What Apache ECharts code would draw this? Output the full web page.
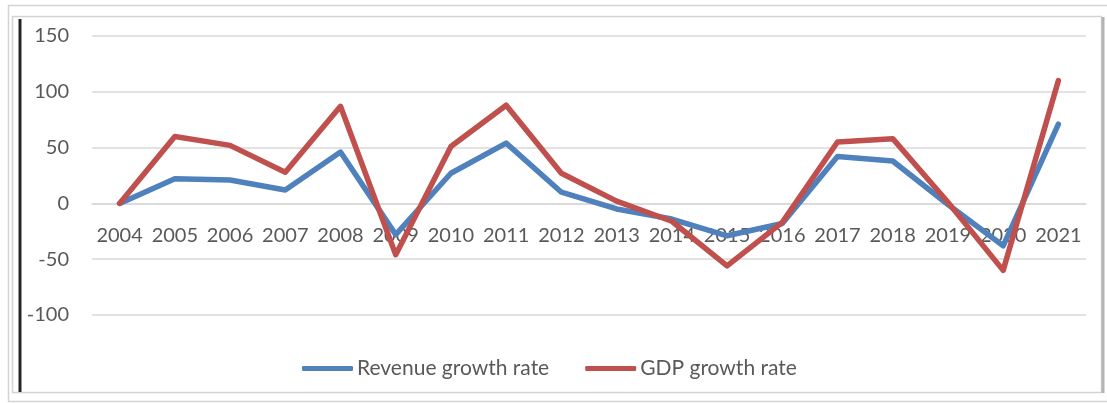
<!DOCTYPE html>
<html>
<head>
<meta charset="utf-8">
<script src="https://cdn.jsdelivr.net/npm/echarts@6/dist/echarts.min.js"></script>
<style>
  html, body { margin: 0; padding: 0; background: #ffffff; }
  #chart { width: 1107px; height: 403px; }
</style>
</head>
<body>
<div id="chart"></div>
<script>
// Years along the category axis
const years = ['2004', '2005', '2006', '2007', '2008', '2009', '2010', '2011', '2012',
               '2013', '2014', '2015', '2016', '2017', '2018', '2019', '2020', '2021'];

// Growth rates (%)
const revenueGrowth = [0, 22, 21, 12, 46, -28, 27, 54, 10, -5, -14, -29, -18, 42, 38, -1, -38, 71];
const gdpGrowth     = [0, 60, 52, 28, 87, -46, 51, 88, 27, 2, -16, -56, -17, 55, 58, 1, -60, 110];

// Value axis range and step
const yMin = -100;
const yMax = 150;
const yStep = 50;

const textColor = '#595959';
const fontFamily = 'Lato, "Open Sans", sans-serif';

const W = 1107, H = 403;
const grid = { left: 92, right: 21, top: 36, bottom: 88 };
// The category axis sits on the zero line: shift it up from the grid bottom
const plotH = H - grid.top - grid.bottom;
const zeroOffset = -plotH * (0 - yMin) / (yMax - yMin);

const chart = echarts.init(document.getElementById('chart'), null, { renderer: 'canvas' });

chart.setOption({
  backgroundColor: '#ffffff',
  animation: false,
  grid: Object.assign({ containLabel: false }, grid),
  legend: {
    left: 297,
    top: 353,
    itemWidth: 51,
    itemHeight: 5,
    itemGap: 36,
    icon: 'roundRect',
    textStyle: { color: textColor, fontSize: 21, fontFamily: fontFamily, padding: [0, 0, 0, -1] },
    data: ['Revenue growth rate', 'GDP growth rate']
  },
  xAxis: {
    type: 'category',
    data: years,
    boundaryGap: true,
    offset: zeroOffset,
    axisLine: { show: true, onZero: false, lineStyle: { color: '#d9d9d9', width: 1.5 } },
    axisTick: { show: false },
    axisLabel: { color: textColor, fontSize: 20, fontFamily: fontFamily, margin: 22, interval: 0 }
  },
  yAxis: {
    type: 'value',
    min: yMin,
    max: yMax,
    interval: yStep,
    axisLine: { show: false },
    axisTick: { show: false },
    axisLabel: { color: textColor, fontSize: 20, fontFamily: fontFamily, margin: 23 },
    splitLine: { lineStyle: { color: '#d9d9d9', width: 1.5 } }
  },
  series: [
    {
      name: 'Revenue growth rate',
      type: 'line',
      data: revenueGrowth,
      symbol: 'none',
      color: '#4f81bd',
      lineStyle: { width: 5.5, color: '#4f81bd', cap: 'round', join: 'round' },
      z: 3
    },
    {
      name: 'GDP growth rate',
      type: 'line',
      data: gdpGrowth,
      symbol: 'none',
      color: '#c0504d',
      lineStyle: { width: 5.5, color: '#c0504d', cap: 'round', join: 'round' },
      z: 4
    }
  ],
  graphic: [
    // outer light frame
    { type: 'rect', silent: true, z: -10,
      shape: { x: 8.5, y: 5.5, width: 1110, height: 396 },
      style: { fill: null, stroke: '#d4d4d4', lineWidth: 1.5 } },
    // inner frame
    { type: 'rect', silent: true, z: -10,
      shape: { x: 12.5, y: 16.5, width: 1089, height: 376 },
      style: { fill: null, stroke: '#d4d4d4', lineWidth: 1.5 } },
    // dark left edge
    { type: 'line', silent: true, z: -9,
      shape: { x1: 20, y1: 19, x2: 20, y2: 392 },
      style: { stroke: '#262626', lineWidth: 3 } },
    // right shadow edge
    { type: 'line', silent: true, z: -9,
      shape: { x1: 1103, y1: 17, x2: 1103, y2: 393 },
      style: { stroke: '#b4b4b4', lineWidth: 3 } }
  ]
});
</script>
</body>
</html>
